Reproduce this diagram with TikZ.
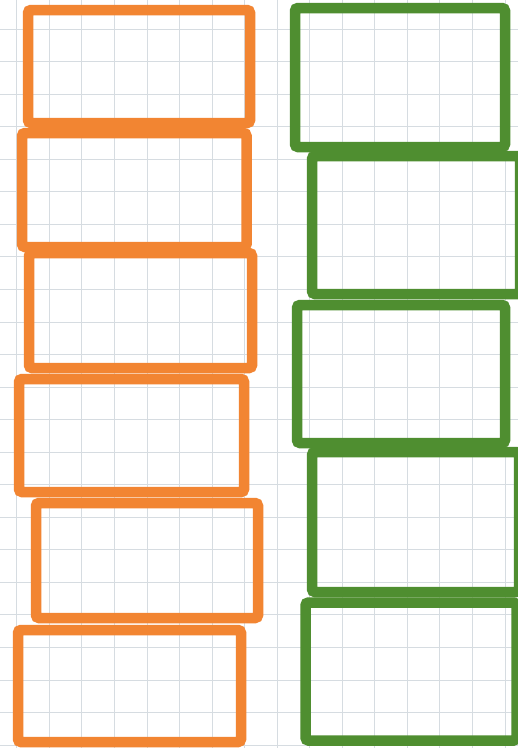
\documentclass[tikz,border=0pt]{standalone}
\usetikzlibrary{positioning}

\definecolor{boxorange}{HTML}{F28532}
\definecolor{boxgreen}{HTML}{4F8E30}
\definecolor{gridgray}{HTML}{D6DCE1}

\begin{document}
\begin{tikzpicture}[x=1pt, y=-1pt,
  gridline/.style={draw=gridgray, line width=0.9pt},
  box/.style={rectangle, draw, line width=10.5pt, rounded corners=3pt, inner sep=0pt, outer sep=0pt},
  obox/.style={box, draw=boxorange},
  gbox/.style={box, draw=boxgreen}]
  \fill[white] (0,0) rectangle (518,748);
  \useasboundingbox (0,0) rectangle (518,748);

  % grid paper
  \foreach \k in {0,...,15}
    \draw[gridline] ({16.75+32.55*\k},0) -- ({16.75+32.55*\k},748);
  \foreach \k in {0,...,22}
    \draw[gridline] (0,{29+32.55*\k}) -- (518,{29+32.55*\k});

  % orange stack
  \node[obox, minimum width=222pt, minimum height=113pt] (o1) at (139,66.5) {};
  \node[obox, minimum width=224.5pt, minimum height=114pt] (o2) at (134.25,190) {};
  \node[obox, minimum width=223pt, minimum height=115pt] (o3) at (140.5,310.5) {};
  \node[obox, minimum width=225pt, minimum height=113pt] (o4) at (131.5,435.5) {};
  \node[obox, minimum width=222pt, minimum height=115pt] (o5) at (147,560.5) {};
  \node[obox, minimum width=223pt, minimum height=112pt] (o6) at (129.5,686) {};

  % green stack
  \node[gbox, minimum width=210pt, minimum height=139pt] (g1) at (400,77.5) {};
  \node[gbox, minimum width=208pt, minimum height=138pt] (g2) at (416,225) {};
  \node[gbox, minimum width=208pt, minimum height=138pt] (g3) at (401,374) {};
  \node[gbox, minimum width=207pt, minimum height=140pt] (g4) at (415.5,522) {};
  \node[gbox, minimum width=211pt, minimum height=138pt] (g5) at (411,671.5) {};
\end{tikzpicture}
\end{document}
